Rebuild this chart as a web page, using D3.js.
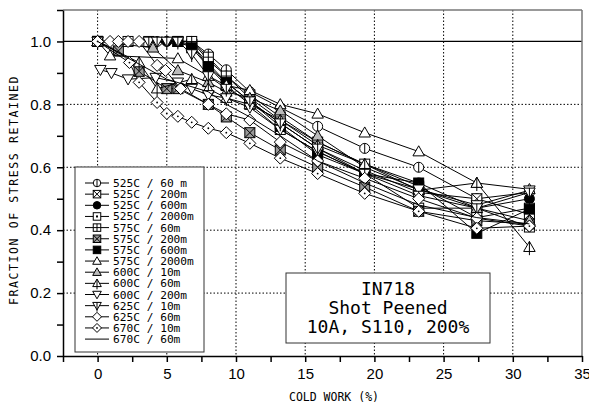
<!DOCTYPE html>
<html><head><meta charset="utf-8">
<script src="https://cdn.jsdelivr.net/npm/d3@7"></script>
<style>
body{margin:0;background:#fff}
svg{display:block}
.mono{font-family:"DejaVu Sans Mono",monospace}
.tick text{font-family:"Liberation Sans",Arial,sans-serif;font-size:15px;fill:#000}
</style></head><body>
<script>
// series names, marker styles and values
const seriesLabels = ["525C / 60 m","525C / 200m","525C / 600m","525C / 2000m","575C / 60m","575C / 200m","575C / 600m","575C / 2000m","600C / 10m","600C / 60m","600C / 200m","625C / 10m","625C / 60m","670C / 10m","670C / 60m"]
const seriesMarkers = ["circleV","sqX","circleFill","sqDot","sqPlus","sqXDark","sqFill","tri","triGray","triV","triDown","triDownV","diamond","diamondDot","none"]
const seriesX = [
  [0, 4.3, 6.8, 8.0, 9.3, 11.0, 13.2, 15.9, 19.3, 23.2, 27.4, 31.2],
  [0, 5.8, 6.8, 8.0, 9.3, 11.0, 13.2, 15.9, 19.3, 23.2, 27.4, 31.2],
  [0, 5.0, 6.8, 8.0, 9.3, 11.0, 13.2, 15.9, 19.3, 23.2, 27.4, 31.2],
  [0, 3.7, 6.8, 8.0, 9.3, 11.0, 13.2, 15.9, 19.3, 23.2, 27.4, 31.2],
  [0, 2.2, 6.8, 8.0, 9.3, 11.0, 13.2, 15.9, 19.3, 23.2, 27.4, 31.2],
  [0, 1.5, 3.0, 5.0, 5.8, 8.0, 9.3, 11.0, 13.2, 15.9, 19.3, 23.2, 27.4, 31.2],
  [0, 5.8, 6.8, 8.0, 9.3, 11.0, 13.2, 15.9, 19.3, 23.2, 27.4, 31.2],
  [0, 0.9, 5.8, 8.0, 9.3, 11.0, 13.2, 15.9, 19.3, 23.2, 27.4, 31.2],
  [0, 4.0, 5.8, 8.0, 9.3, 11.0, 13.2, 15.9, 19.3, 23.2, 27.4, 31.2],
  [0, 3.0, 4.3, 6.8, 8.0, 9.3, 11.0, 13.2, 15.9, 19.3, 23.2, 27.4, 31.2],
  [0.2, 1.0, 2.2, 4.2, 5.8, 6.8, 8.0, 9.3, 11.0, 13.2, 15.9, 19.3, 23.2, 27.4, 31.2],
  [0, 3.7, 4.3, 5.0, 5.8, 6.8, 8.0, 9.3, 11.0, 13.2, 15.9, 19.3, 23.2, 27.4, 31.2],
  [0, 0.9, 1.5, 2.2, 3.0, 4.3, 4.9, 6.0, 8.0, 9.3, 11.0, 13.2, 15.9, 19.3, 23.2, 27.4, 31.2],
  [0, 2.3, 3.0, 4.3, 5.0, 5.8, 6.8, 8.0, 9.3, 11.0, 13.2, 15.9, 19.3, 23.2, 27.4, 31.2],
  [0, 5.0, 8.0, 9.3, 11.0, 13.2, 15.9, 19.3, 23.2, 27.4, 31.2]
]
const seriesY = [
  [1.0, 1.0, 1.0, 0.96, 0.91, 0.84, 0.79, 0.73, 0.66, 0.60, 0.50, 0.52],
  [1.0, 1.0, 0.99, 0.93, 0.87, 0.81, 0.74, 0.66, 0.59, 0.52, 0.50, 0.45],
  [1.0, 1.0, 1.0, 0.94, 0.89, 0.82, 0.75, 0.68, 0.61, 0.55, 0.47, 0.50],
  [1.0, 1.0, 0.99, 0.92, 0.86, 0.80, 0.72, 0.65, 0.58, 0.47, 0.47, 0.41],
  [1.0, 1.0, 1.0, 0.95, 0.89, 0.83, 0.76, 0.68, 0.61, 0.54, 0.44, 0.47],
  [1.0, 0.97, 0.905, 0.85, 0.85, 0.80, 0.76, 0.71, 0.655, 0.60, 0.537, 0.46, 0.43, 0.42],
  [1.0, 1.0, 0.98, 0.92, 0.87, 0.81, 0.73, 0.64, 0.58, 0.55, 0.39, 0.467],
  [1.0, 0.955, 0.946, 0.89, 0.86, 0.845, 0.80, 0.77, 0.71, 0.65, 0.55, 0.53],
  [1.0, 0.98, 0.908, 0.87, 0.84, 0.82, 0.78, 0.70, 0.60, 0.53, 0.47, 0.43],
  [1.0, 0.933, 0.85, 0.88, 0.85, 0.82, 0.80, 0.75, 0.67, 0.61, 0.527, 0.55, 0.346],
  [0.91, 0.90, 0.88, 0.885, 0.87, 0.85, 0.83, 0.82, 0.79, 0.72, 0.65, 0.58, 0.53, 0.48, 0.527],
  [1.0, 1.0, 1.0, 1.0, 1.0, 0.96, 0.89, 0.85, 0.81, 0.74, 0.66, 0.58, 0.51, 0.47, 0.52],
  [1.0, 1.0, 1.0, 1.0, 1.0, 0.924, 0.908, 0.85, 0.80, 0.77, 0.75, 0.68, 0.62, 0.565, 0.50, 0.438, 0.413],
  [1.0, 0.933, 0.87, 0.806, 0.771, 0.762, 0.743, 0.724, 0.71, 0.676, 0.629, 0.58, 0.517, 0.46, 0.406, 0.413],
  [1.0, 0.88, 0.84, 0.80, 0.76, 0.70, 0.62, 0.55, 0.48, 0.44, 0.42]
]
const xTicks = d3.range(-2.5, 35.01, 2.5)
const yTicks = d3.range(0, 1.101, 0.1)
const xGrid = [0, 5, 10, 15, 20, 25, 30]
const yGrid = [0.2, 0.4, 0.6, 0.8]
const noteLines = ["IN718", "Shot Peened", "10A, S110, 200%"]

const width = 589, height = 407
const pLeft = 63, pRight = 582, pTop = 10, pBottom = 356

const svg = d3.select("body").append("svg")
    .attr("width", width).attr("height", height)

const x = d3.scaleLinear().domain([-2.5, 35]).range([pLeft, pRight])
const y = d3.scaleLinear().domain([0, 1.1]).range([pBottom, pTop])

// grid
svg.append("g").selectAll("line").data(xGrid).join("line")
    .attr("x1", d => x(d)).attr("x2", d => x(d))
    .attr("y1", pTop).attr("y2", pBottom)
    .attr("stroke", "#000").attr("stroke-width", 1).attr("stroke-dasharray", "1.5,2")
svg.append("g").selectAll("line").data(yGrid).join("line")
    .attr("x1", pLeft).attr("x2", pRight)
    .attr("y1", d => y(d)).attr("y2", d => y(d))
    .attr("stroke", "#000").attr("stroke-width", 1).attr("stroke-dasharray", "1.5,2")
svg.append("line")
    .attr("x1", pLeft).attr("x2", pRight).attr("y1", y(1)).attr("y2", y(1))
    .attr("stroke", "#000").attr("stroke-width", 1.2)

// frame
svg.append("line").attr("x1", pLeft).attr("x2", pRight).attr("y1", pTop).attr("y2", pTop)
    .attr("stroke", "#777").attr("stroke-width", 1.5)
svg.append("line").attr("x1", pRight).attr("x2", pRight).attr("y1", pTop).attr("y2", pBottom)
    .attr("stroke", "#777").attr("stroke-width", 1.5)

function marker(g, type, s) {
  const h = s / 2
  const st = el => el.attr("stroke", "#000").attr("stroke-width", 1)
  const tri = (up) => {
    const a = h * 1.15, b = up ? 1 : -1
    return `M0,${-a * b}L${a},${a * 0.75 * b}L${-a},${a * 0.75 * b}Z`
  }
  if (type === "none") return
  if (type.startsWith("circle")) {
    st(g.append("circle").attr("r", h).attr("fill", type === "circleFill" ? "#000" : "#fff"))
    if (type === "circleV") st(g.append("line").attr("y1", -h).attr("y2", h))
  } else if (type.startsWith("sq")) {
    const fill = type === "sqFill" ? "#000" : type === "sqXDark" ? "#999" : "#fff"
    st(g.append("rect").attr("x", -h).attr("y", -h).attr("width", s).attr("height", s).attr("fill", fill))
    if (type === "sqX" || type === "sqXDark") {
      st(g.append("path").attr("d", `M${-h},${-h}L${h},${h}M${h},${-h}L${-h},${h}`))
    }
    if (type === "sqPlus") st(g.append("path").attr("d", `M0,${-h}V${h}M${-h},0H${h}`))
    if (type === "sqDot") g.append("rect").attr("x", -1).attr("y", -1).attr("width", 2).attr("height", 2)
  } else if (type.startsWith("triDown")) {
    st(g.append("path").attr("d", tri(false)).attr("fill", "#fff"))
    if (type === "triDownV") st(g.append("line").attr("y1", -h * 0.9).attr("y2", h * 1.6))
  } else if (type.startsWith("tri")) {
    st(g.append("path").attr("d", tri(true)).attr("fill", type === "triGray" ? "#bbb" : "#fff"))
    if (type === "triV") st(g.append("line").attr("y1", -h * 1.15).attr("y2", h * 1.6))
  } else if (type.startsWith("diamond")) {
    const a = h * 1.2
    st(g.append("path").attr("d", `M0,${-a}L${a},0L0,${a}L${-a},0Z`).attr("fill", "#fff"))
    if (type === "diamondDot") g.append("circle").attr("r", 0.9).attr("fill", "#000")
  }
}

// series: line first, then its markers
const line = d3.line().x(d => x(d[0])).y(d => y(d[1]))
seriesLabels.forEach((name, i) => {
  const pts = d3.zip(seriesX[i], seriesY[i])
  const g = svg.append("g")
  g.append("path").datum(pts)
      .attr("d", line).attr("fill", "none").attr("stroke", "#000").attr("stroke-width", 1)
  g.selectAll("g").data(pts).join("g")
      .attr("transform", d => `translate(${x(d[0])},${y(d[1])})`)
      .each(function() { marker(d3.select(this), seriesMarkers[i], 10) })
})

// axes
svg.append("g")
    .attr("transform", `translate(0,${pBottom})`)
    .call(d3.axisBottom(x).tickValues(xTicks).tickSize(6).tickSizeOuter(0).tickPadding(6)
      .tickFormat(d => d % 5 === 0 ? d3.format("d")(d) : ""))
    .call(g => g.selectAll("line,path").attr("stroke", "#000").attr("stroke-width", 1.5))
svg.append("g")
    .attr("transform", `translate(${pLeft},0)`)
    .call(d3.axisLeft(y).tickValues(yTicks).tickSize(6).tickSizeOuter(0).tickPadding(6)
      .tickFormat(d => Math.round(d * 10) % 2 === 0 ? d3.format(".1f")(d) : ""))
    .call(g => g.selectAll("line,path").attr("stroke", "#000").attr("stroke-width", 1.5))

// axis titles
svg.append("text").attr("class", "mono")
    .attr("transform", `translate(18,${(pTop + pBottom) / 2 + 7}) rotate(-90)`)
    .attr("text-anchor", "middle").attr("font-size", 11.5).attr("letter-spacing", 1.6)
    .text("FRACTION OF STRESS RETAINED")
svg.append("text").attr("class", "mono")
    .attr("x", 334).attr("y", 401)
    .attr("text-anchor", "middle").attr("font-size", 11.5)
    .text("COLD WORK (%)")

// legend
const lg = svg.append("g")
lg.append("rect").attr("x", 75).attr("y", 167).attr("width", 129).attr("height", 185)
    .attr("fill", "#fff").attr("stroke", "#333").attr("stroke-width", 1)
seriesLabels.forEach((name, i) => {
  const cy = 183 + i * 11.15
  lg.append("line").attr("x1", 85).attr("x2", 109).attr("y1", cy).attr("y2", cy)
      .attr("stroke", "#000").attr("stroke-width", 1)
  marker(lg.append("g").attr("transform", `translate(97,${cy})`), seriesMarkers[i], 7.5)
  lg.append("text").attr("class", "mono").attr("x", 113).attr("y", cy + 4)
      .attr("font-size", 11.2).text(name)
})

// note box
svg.append("rect").attr("x", 286).attr("y", 273).attr("width", 204).attr("height", 70)
    .attr("fill", "#fff").attr("stroke", "#333").attr("stroke-width", 1)
svg.append("g").selectAll("text").data(noteLines).join("text")
    .attr("class", "mono").attr("x", 388).attr("y", (d, i) => 295 + i * 19)
    .attr("text-anchor", "middle").attr("font-size", 18).text(d => d)
</script>
</body></html>
